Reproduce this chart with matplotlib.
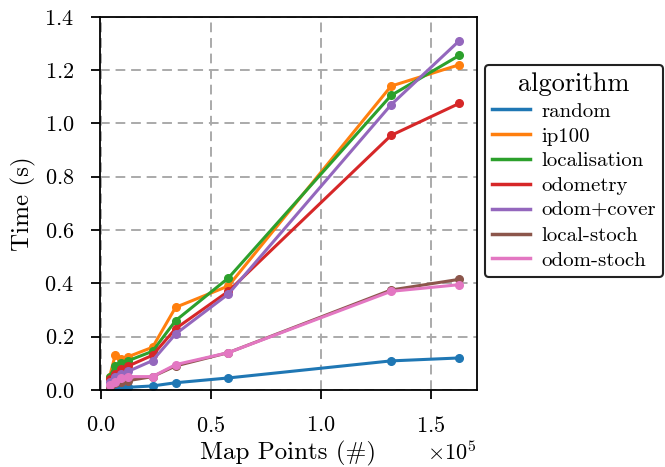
import matplotlib
matplotlib.use("Agg")
import matplotlib.pyplot as plt
import numpy as np

plt.rcParams['font.family'] = 'serif'
plt.rcParams['font.serif'] = ['cmr10', 'DejaVu Serif']
plt.rcParams['mathtext.fontset'] = 'cm'
plt.rcParams['axes.formatter.use_mathtext'] = True
plt.rcParams['axes.unicode_minus'] = False

# map sizes (number of points)
map_points = [4000, 6500, 9000, 12500, 23500, 34000, 58000, 132000, 163000]

algorithms = ['random', 'ip100', 'localisation', 'odometry', 'odom+cover', 'local-stoch', 'odom-stoch']
t_random = [0.004, 0.006, 0.008, 0.010, 0.015, 0.027, 0.045, 0.109, 0.120]
t_ip100 = [0.05, 0.13, 0.115, 0.125, 0.16, 0.31, 0.39, 1.14, 1.22]
t_local = [0.05, 0.09, 0.10, 0.11, 0.145, 0.26, 0.42, 1.105, 1.255]
t_odom = [0.04, 0.06, 0.08, 0.09, 0.13, 0.23, 0.37, 0.955, 1.075]
t_cover = [0.03, 0.05, 0.06, 0.07, 0.11, 0.21, 0.36, 1.07, 1.31]
t_lstoch = [0.01, 0.025, 0.03, 0.035, 0.05, 0.09, 0.14, 0.375, 0.415]
t_ostoch = [0.02, 0.03, 0.045, 0.05, 0.05, 0.095, 0.14, 0.37, 0.395]
times = [t_random, t_ip100, t_local, t_odom, t_cover, t_lstoch, t_ostoch]

colors = ['#1f77b4', '#ff7f0e', '#2ca02c', '#d62728', '#9467bd', '#8c564b', '#e377c2']

fig = plt.figure(figsize=(6.65, 4.67), dpi=100)
ax = fig.add_axes([0.150, 0.165, 0.567, 0.799])

for name, t, c in zip(algorithms, times, colors):
    ax.plot(map_points, t, color=c, lw=2.2, label=name)
    ax.plot(map_points, t, 'o', color=c, ms=5.5)

ax.set_xlim(-500, 171000)
ax.set_ylim(0, 1.4)
ax.set_xticks([0, 50000, 100000, 150000])
ax.set_yticks(np.arange(0, 1.41, 0.2))
ax.ticklabel_format(axis='x', style='sci', scilimits=(0, 0), useMathText=True)
ax.grid(True, ls='--', color='#aaaaaa', lw=1.4, dashes=(5, 3))
ax.tick_params(labelsize=16, direction='out', length=6.5, width=1.3, pad=12)
ax.xaxis.get_offset_text().set_fontsize(16)
for s in ax.spines.values():
    s.set_linewidth(1.3)
ax.set_xlabel('Map Points (#)', fontsize=18, labelpad=4)
ax.set_ylabel('Time (s)', fontsize=18, labelpad=6)

leg = fig.legend(*ax.get_legend_handles_labels(), loc='center left',
                 bbox_to_anchor=(0.729, 0.634), title='algorithm',
                 fontsize=15, title_fontsize=19, frameon=True,
                 handlelength=1.8, handletextpad=0.55, labelspacing=0.3,
                 borderpad=0.35, borderaxespad=0.0)
leg.get_frame().set_edgecolor('#222222')
leg.get_frame().set_linewidth(1.5)
leg.get_frame().set_alpha(1)
for h in leg.legend_handles:
    h.set_linewidth(2.5)

fig.savefig('out.png', dpi=100)
